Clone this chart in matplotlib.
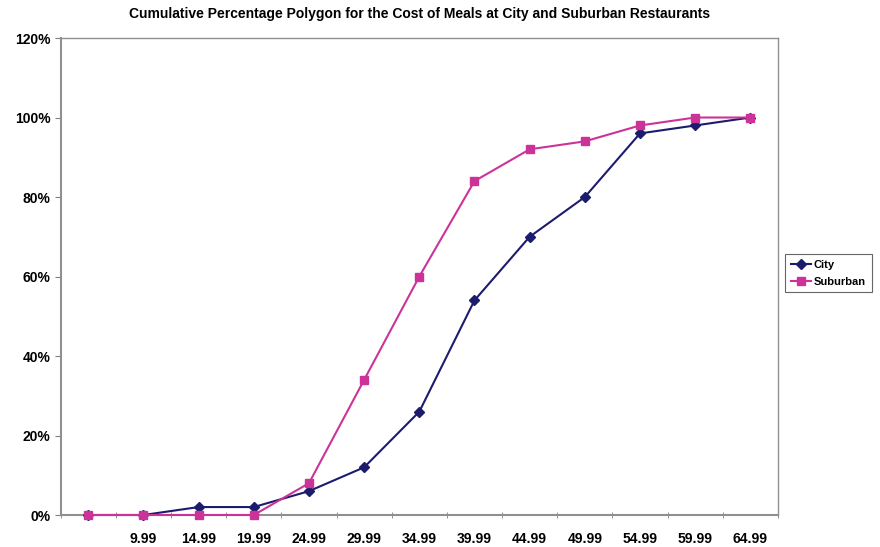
import matplotlib.pyplot as plt
from matplotlib.ticker import FuncFormatter

plt.rcParams['font.family'] = ['Liberation Sans', 'DejaVu Sans']

# upper class limits of meal cost, first bin has no label
cost_labels = ["", "9.99", "14.99", "19.99", "24.99", "29.99", "34.99",
               "39.99", "44.99", "49.99", "54.99", "59.99", "64.99"]
city_pct = [0, 0, 2, 2, 6, 12, 26, 54, 70, 80, 96, 98, 100]
suburban_pct = [0, 0, 0, 0, 8, 34, 60, 84, 92, 94, 98, 100, 100]

fig = plt.figure(figsize=(8.8, 5.47), dpi=100)
ax = fig.add_axes([0.069, 0.0585, 0.815, 0.872])

x = list(range(len(cost_labels)))
ax.plot(x, city_pct, color='#1c1c6e', marker='D', markersize=5,
        linewidth=1.5, label='City', clip_on=False, zorder=3)
ax.plot(x, suburban_pct, color='#cc3399', marker='s', markersize=6,
        linewidth=1.5, label='Suburban', clip_on=False, zorder=3)

ax.set_xlim(-0.5, len(x) - 0.5)
ax.set_ylim(0, 120)
ax.set_yticks(range(0, 121, 20))
ax.yaxis.set_major_formatter(FuncFormatter(lambda v, p: f"{int(v)}%"))

# Excel style: labels centred on categories, tick marks on boundaries
ax.set_xticks(x)
ax.set_xticklabels(cost_labels)
ax.set_xticks([i - 0.5 for i in range(len(x) + 1)], minor=True)
ax.tick_params(axis='x', which='major', length=0, pad=12)
ax.tick_params(axis='x', which='minor', length=5, direction='inout',
               color='#808080')
ax.tick_params(axis='y', length=4, color='#808080')
for lbl in ax.get_xticklabels() + ax.get_yticklabels():
    lbl.set_fontsize(10)
    lbl.set_fontweight('bold')

for side in ['left', 'right', 'top', 'bottom']:
    ax.spines[side].set_color('#909090')
ax.spines['left'].set_linewidth(1.5)
ax.spines['bottom'].set_linewidth(1.5)
ax.spines['right'].set_linewidth(1.0)
ax.spines['top'].set_linewidth(1.0)

fig.text(0.477, 0.974, "Cumulative Percentage Polygon for the Cost of Meals at City and Suburban Restaurants",
         ha='center', va='center', fontsize=10, fontweight='bold')

leg = ax.legend(loc='upper left', bbox_to_anchor=(0.892, 0.535),
                bbox_transform=fig.transFigure, frameon=True, fancybox=False,
                handlelength=1.8, handletextpad=0.3, borderpad=0.5,
                borderaxespad=0, labelspacing=0.6,
                prop={'weight': 'bold', 'size': 8})
leg.get_frame().set_edgecolor('#404040')
leg.get_frame().set_linewidth(0.8)

fig.savefig('out.png', dpi=100)
